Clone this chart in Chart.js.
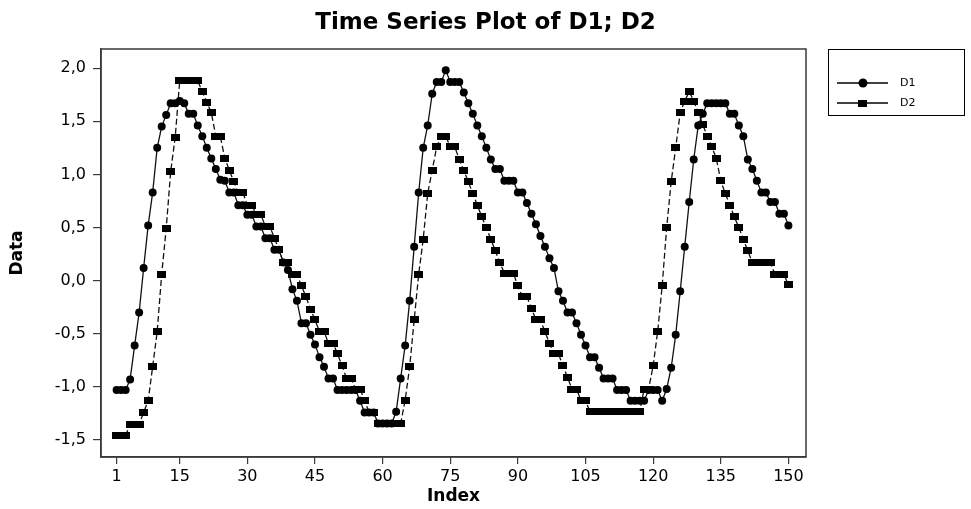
<!DOCTYPE html>
<html>
<head>
<meta charset="utf-8">
<script src="https://cdn.jsdelivr.net/npm/chart.js@4.4.1/dist/chart.umd.min.js"></script>
<style>
  html, body { margin: 0; padding: 0; background: #fff; }
  #tsplot { display: block; }
</style>
</head>
<body>
<canvas id="tsplot" width="971" height="509"></canvas>
<script>
// values, index 1..150
const d1 = [
  -1.03, -1.03, -1.03, -0.93, -0.61, -0.30, 0.12, 0.52, 0.83, 1.25,
  1.45, 1.56, 1.67, 1.67, 1.69, 1.67, 1.57, 1.57, 1.46, 1.36,
  1.25, 1.15, 1.05, 0.95, 0.94, 0.83, 0.83, 0.71, 0.71, 0.62,
  0.62, 0.51, 0.51, 0.40, 0.40, 0.29, 0.29, 0.17, 0.10, -0.08,
  -0.19, -0.40, -0.40, -0.51, -0.60, -0.72, -0.81, -0.92, -0.92, -1.03,
  -1.03, -1.03, -1.03, -1.03, -1.13, -1.24, -1.24, -1.24, -1.345, -1.345,
  -1.345, -1.345, -1.235, -0.92, -0.61, -0.19, 0.32, 0.83, 1.25, 1.46,
  1.76, 1.87, 1.87, 1.98, 1.87, 1.87, 1.87, 1.77, 1.67, 1.57,
  1.46, 1.36, 1.25, 1.14, 1.05, 1.05, 0.94, 0.94, 0.94, 0.83,
  0.83, 0.73, 0.63, 0.53, 0.42, 0.32, 0.21, 0.12, -0.10, -0.19,
  -0.30, -0.30, -0.40, -0.51, -0.61, -0.72, -0.72, -0.82, -0.92, -0.92,
  -0.92, -1.03, -1.03, -1.03, -1.13, -1.13, -1.13, -1.13, -1.03, -1.03,
  -1.03, -1.13, -1.02, -0.82, -0.51, -0.10, 0.32, 0.74, 1.14, 1.46,
  1.57, 1.67, 1.67, 1.67, 1.67, 1.67, 1.57, 1.57, 1.46, 1.36,
  1.14, 1.05, 0.94, 0.83, 0.83, 0.74, 0.74, 0.63, 0.63, 0.52
];
const d2 = [
  -1.46, -1.46, -1.46, -1.35, -1.35, -1.35, -1.24, -1.13, -0.81, -0.48,
  0.06, 0.49, 1.03, 1.35, 1.88, 1.88, 1.88, 1.88, 1.88, 1.78,
  1.68, 1.58, 1.36, 1.36, 1.15, 1.04, 0.93, 0.83, 0.83, 0.71,
  0.71, 0.62, 0.62, 0.51, 0.51, 0.40, 0.29, 0.17, 0.17, 0.06,
  0.06, -0.05, -0.15, -0.27, -0.37, -0.48, -0.48, -0.59, -0.59, -0.69,
  -0.80, -0.92, -0.92, -1.02, -1.02, -1.13, -1.24, -1.24, -1.345, -1.345,
  -1.345, -1.345, -1.345, -1.345, -1.125, -0.81, -0.37, 0.06, 0.39, 0.82,
  1.04, 1.26, 1.36, 1.36, 1.26, 1.26, 1.14, 1.04, 0.93, 0.82,
  0.71, 0.60, 0.50, 0.39, 0.28, 0.17, 0.07, 0.07, 0.07, -0.05,
  -0.15, -0.15, -0.26, -0.37, -0.37, -0.48, -0.59, -0.69, -0.69, -0.80,
  -0.91, -1.02, -1.02, -1.13, -1.13, -1.235, -1.235, -1.235, -1.235, -1.235,
  -1.235, -1.235, -1.235, -1.235, -1.235, -1.235, -1.235, -1.02, -1.02, -0.80,
  -0.48, -0.05, 0.50, 0.93, 1.25, 1.58, 1.69, 1.78, 1.69, 1.58,
  1.47, 1.36, 1.26, 1.15, 0.94, 0.82, 0.71, 0.60, 0.50, 0.39,
  0.28, 0.17, 0.17, 0.17, 0.17, 0.17, 0.06, 0.06, 0.06, -0.04
];
const seriesNames = ['D1', 'D2'];
const xTicks = [1, 15, 30, 45, 60, 75, 90, 105, 120, 135, 150];
const yTicks = [-1.5, -1.0, -0.5, 0.0, 0.5, 1.0, 1.5, 2.0];

const tickFont = { family: 'DejaVu Sans', size: 16 };
const boldFont = { family: 'DejaVu Sans', size: 17, weight: 'bold' };

// Minitab squares come out a bit wider than tall
const squareMark = document.createElement('canvas');
squareMark.width = 9;
squareMark.height = 7;
squareMark.getContext('2d').fillRect(0, 0, 9, 7);

const toPoints = arr => arr.map((v, i) => ({ x: i + 1, y: v }));

const framePlugin = {
  id: 'frame',
  afterDraw(chart) {
    const { ctx, chartArea: a } = chart;
    ctx.save();
    ctx.strokeStyle = '#3a3a3a';
    ctx.lineWidth = 1.5;
    ctx.strokeRect(a.left, a.top, a.right - a.left, a.bottom - a.top);

    // legend box on the right
    const bx = 828, by = 49, bw = 136, bh = 66;
    ctx.lineWidth = 1;
    ctx.strokeStyle = '#000';
    ctx.strokeRect(bx + 0.5, by + 0.5, bw, bh);
    ctx.font = '11px "DejaVu Sans"';
    ctx.textBaseline = 'middle';
    ctx.fillStyle = '#000';
    const rows = [83, 103];
    rows.forEach((y, k) => {
      ctx.beginPath();
      ctx.moveTo(837, y);
      ctx.lineTo(888, y);
      ctx.lineWidth = 1.3;
      ctx.stroke();
      if (k === 0) {
        ctx.beginPath();
        ctx.arc(863, y, 4.5, 0, Math.PI * 2);
        ctx.fill();
      } else {
        ctx.drawImage(squareMark, 858, y - 3.5);
      }
      ctx.fillText(seriesNames[k], 900, y);
    });
    ctx.restore();
  }
};

const ctx = document.getElementById('tsplot').getContext('2d');
new Chart(ctx, {
  type: 'line',
  data: {
    datasets: [
      {
        label: seriesNames[0],
        data: toPoints(d1),
        borderColor: '#111',
        borderWidth: 1.3,
        pointStyle: 'circle',
        pointRadius: 4,
        pointBackgroundColor: '#000',
        pointBorderWidth: 0,
        tension: 0
      },
      {
        label: seriesNames[1],
        data: toPoints(d2),
        borderColor: '#111',
        borderWidth: 1.3,
        borderDash: [6, 3],
        pointStyle: squareMark,
        pointRadius: 4,
        pointBackgroundColor: '#000',
        tension: 0
      }
    ]
  },
  options: {
    responsive: false,
    animation: false,
    layout: { padding: 0 },
    plugins: {
      legend: { display: false },
      tooltip: { enabled: false },
      title: {
        display: true,
        text: 'Time Series Plot of D1; D2',
        color: '#000',
        font: { family: 'DejaVu Sans', size: 23, weight: 'bold' },
        padding: { top: 9, bottom: 12.4 }
      }
    },
    scales: {
      x: {
        type: 'linear',
        min: -2.46,
        max: 153.9,
        afterBuildTicks: s => { s.ticks = xTicks.map(v => ({ value: v })); },
        afterFit: s => { s.height = 52; },
        grid: { drawOnChartArea: false, tickLength: 7, color: '#3a3a3a', lineWidth: 1.2 },
        border: { color: '#3a3a3a', width: 1.5 },
        ticks: { font: tickFont, color: '#000', padding: 3, maxRotation: 0, autoSkip: false },
        title: { display: true, text: 'Index', color: '#000', font: boldFont, padding: { top: 0, bottom: 2 } }
      },
      y: {
        min: -1.66,
        max: 2.18,
        afterBuildTicks: s => { s.ticks = yTicks.map(v => ({ value: v })); },
        afterFit: s => { s.width = 101; },
        grid: { drawOnChartArea: false, tickLength: 8, color: '#3a3a3a', lineWidth: 1.2 },
        border: { color: '#3a3a3a', width: 1.5 },
        ticks: {
          font: tickFont,
          color: '#000',
          padding: 7,
          callback: v => v.toFixed(1).replace('.', ',')
        },
        title: { display: true, text: 'Data', color: '#000', font: boldFont, padding: { top: 7, bottom: 0 } }
      },
      // empty box on the right that keeps room for the legend, so the title stays centred on the page
      legendRoom: {
        type: 'linear',
        position: 'right',
        afterFit: s => { s.width = 165; },
        grid: { display: false },
        border: { display: false },
        ticks: { display: false }
      }
    }
  },
  plugins: [framePlugin]
});
</script>
</body>
</html>
